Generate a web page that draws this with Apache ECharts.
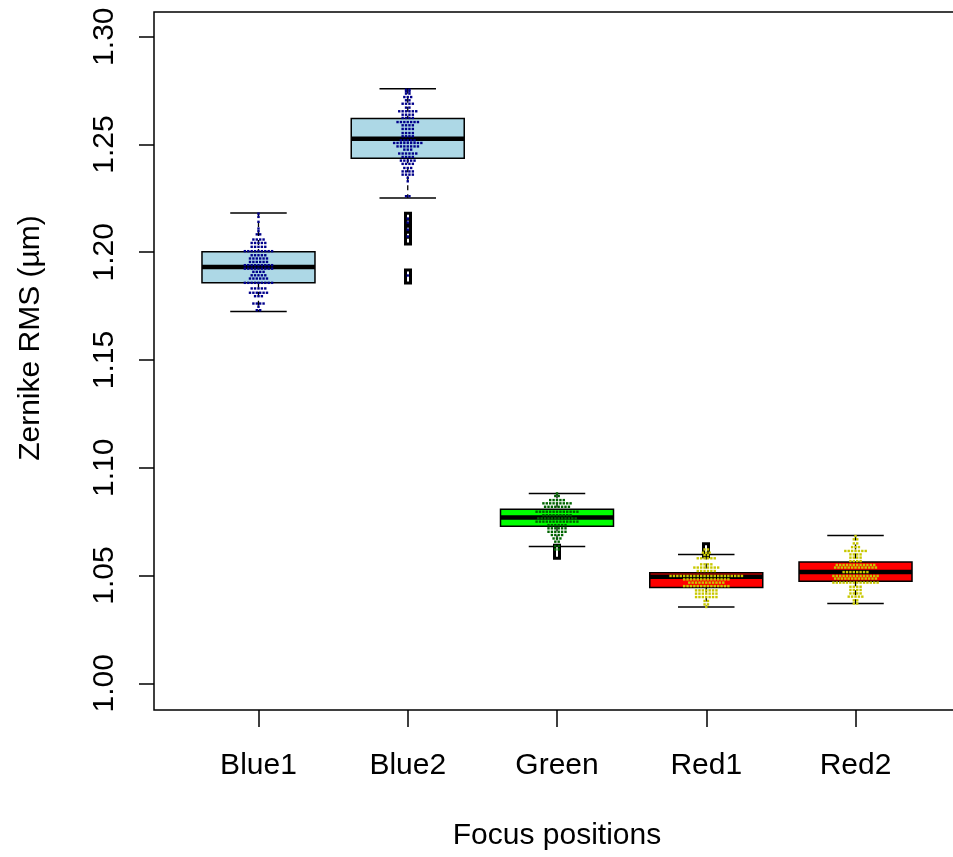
<!DOCTYPE html>
<html>
<head>
<meta charset="utf-8">
<script src="https://cdn.jsdelivr.net/npm/echarts@6/dist/echarts.min.js"></script>
<style>
  html, body { margin: 0; padding: 0; overflow: hidden; background: #ffffff; }
  #chart { width: 962px; height: 857px; }
</style>
</head>
<body>
<div id="chart"></div>
<script>
// Focus positions and their box statistics (Zernike RMS, µm)
const categories = ['Blue1', 'Blue2', 'Green', 'Red1', 'Red2'];
const yTicks = [1.00, 1.05, 1.10, 1.15, 1.20, 1.25, 1.30];

const whiskerLow  = [1.1725, 1.2252, 1.0635, 1.0354, 1.0370];
const quartile1   = [1.1858, 1.2436, 1.0729, 1.0444, 1.0473];
const medians     = [1.1932, 1.2526, 1.0769, 1.0494, 1.0516];
const quartile3   = [1.2002, 1.2620, 1.0807, 1.0513, 1.0563];
const whiskerHigh = [1.2182, 1.2759, 1.0881, 1.0598, 1.0686];

// outliers as [position index, value]
const outliers = [
  [1, 1.2151], [1, 1.2123], [1, 1.2100], [1, 1.2068], [1, 1.1887],
  [2, 1.0610],
  [3, 1.0617]
];

// beeswarm rows: value of each row and how many measurements fall in it
const blue1Levels = [1.2179, 1.2164, 1.2141, 1.2110, 1.2098, 1.2083, 1.2059, 1.2043, 1.2025, 1.2005, 1.1986, 1.1971, 1.1955, 1.1940, 1.1924, 1.1909, 1.1893, 1.1878, 1.1858, 1.1832, 1.1812, 1.1796, 1.1762, 1.1747, 1.1731];
const blue1Counts = [1, 1, 1, 1, 1, 2, 4, 5, 5, 9, 5, 6, 6, 9, 9, 4, 5, 6, 9, 5, 6, 3, 4, 1, 2];

const blue2Levels = [1.2754, 1.2746, 1.2736, 1.2720, 1.2705, 1.2689, 1.2671, 1.2654, 1.2638, 1.2623, 1.2604, 1.2589, 1.2572, 1.2553, 1.2538, 1.2519, 1.2507, 1.2491, 1.2476, 1.2458, 1.2442, 1.2425, 1.2410, 1.2391, 1.2375, 1.2360, 1.2345, 1.2329, 1.2260, 1.2156, 1.2138, 1.2105, 1.2073, 1.1892];
const blue2Counts = [2, 2, 2, 3, 2, 4, 2, 6, 4, 4, 7, 4, 4, 4, 4, 5, 9, 7, 3, 6, 4, 5, 4, 3, 4, 4, 1, 1, 2, 1, 1, 1, 1, 1];

const greenLevels = [1.0881, 1.0869, 1.0850, 1.0835, 1.0819, 1.0796, 1.0780, 1.0765, 1.0750, 1.0734, 1.0719, 1.0703, 1.0688, 1.0672, 1.0657, 1.0637, 1.0621];
const greenCounts = [1, 2, 5, 9, 8, 13, 9, 12, 13, 6, 6, 6, 4, 3, 2, 2, 2];

const red1Levels = [1.0621, 1.0606, 1.0595, 1.0580, 1.0552, 1.0537, 1.0521, 1.0498, 1.0482, 1.0467, 1.0451, 1.0431, 1.0416, 1.0400, 1.0382, 1.0366, 1.0354];
const red1Counts = [2, 3, 2, 6, 4, 8, 6, 22, 14, 11, 14, 7, 7, 7, 2, 2, 1];

const red2Levels = [1.0683, 1.0668, 1.0649, 1.0632, 1.0614, 1.0598, 1.0583, 1.0567, 1.0549, 1.0537, 1.0516, 1.0498, 1.0486, 1.0467, 1.0448, 1.0433, 1.0417, 1.0402, 1.0385, 1.0370];
const red2Counts = [1, 2, 2, 3, 7, 4, 4, 4, 12, 13, 8, 14, 13, 14, 4, 4, 4, 5, 2, 2];

const swarmLevels = [blue1Levels, blue2Levels, greenLevels, red1Levels, red2Levels];
const swarmCounts = [blue1Counts, blue2Counts, greenCounts, red1Counts, red2Counts];

// styling
const boxFill  = ['#ADD8E6', '#ADD8E6', '#00FF00', '#FF0000', '#FF0000'];
const dotColor = ['#00008B', '#00008B', '#006400', '#C8C800', '#C8C800'];
const BOX_WEX = 0.757;     // box width in axis units
const DOT_STEP = 3.4;      // horizontal spacing of swarm dots, px
const DOT_SIZE = 2.4;
const FONT = '"Liberation Sans", Arial, Helvetica, sans-serif';

// box records: [x, low, q1, median, q3, high]
const boxData = categories.map((c, i) =>
  [i + 1, whiskerLow[i], quartile1[i], medians[i], quartile3[i], whiskerHigh[i]]);

// swarm records: [x, value, slot within row, group index]
const swarmData = [];
swarmLevels.forEach((levels, g) => {
  levels.forEach((v, r) => {
    const n = swarmCounts[g][r];
    for (let j = 0; j < n; j++) {
      swarmData.push([g + 1, v, j - (n - 1) / 2, g]);
    }
  });
});

const outlierData = outliers.map(o => [o[0] + 1, o[1]]);

function renderBox(params, api) {
  const x = api.value(0);
  const pLow = api.coord([x, api.value(1)]);
  const pQ1 = api.coord([x, api.value(2)]);
  const pMed = api.coord([x, api.value(3)]);
  const pQ3 = api.coord([x, api.value(4)]);
  const pHigh = api.coord([x, api.value(5)]);
  const half = api.size([BOX_WEX, 0])[0] / 2;
  const cap = half / 2;
  const cx = pMed[0];
  const ink = { stroke: '#000', lineWidth: 1.5 };
  const dashed = { stroke: '#000', lineWidth: 1.3, lineDash: [5, 4], fill: null };
  return {
    type: 'group',
    children: [
      { type: 'line', shape: { x1: cx, y1: pHigh[1], x2: cx, y2: pQ3[1] }, style: dashed },
      { type: 'line', shape: { x1: cx, y1: pQ1[1], x2: cx, y2: pLow[1] }, style: dashed },
      { type: 'line', shape: { x1: cx - cap, y1: pHigh[1], x2: cx + cap, y2: pHigh[1] }, style: ink },
      { type: 'line', shape: { x1: cx - cap, y1: pLow[1], x2: cx + cap, y2: pLow[1] }, style: ink },
      { type: 'rect', shape: { x: cx - half, y: pQ3[1], width: 2 * half, height: pQ1[1] - pQ3[1] },
        style: { fill: boxFill[params.dataIndex], stroke: '#000', lineWidth: 1.5 } },
      { type: 'line', shape: { x1: cx - half, y1: pMed[1], x2: cx + half, y2: pMed[1] },
        style: { stroke: '#000', lineWidth: 4.5 } }
    ]
  };
}

function renderDot(params, api) {
  const p = api.coord([api.value(0), api.value(1)]);
  const slot = api.value(2);
  const g = api.value(3);
  return {
    type: 'rect',
    shape: { x: p[0] + slot * DOT_STEP - DOT_SIZE / 2, y: p[1] - DOT_SIZE / 2, width: DOT_SIZE, height: DOT_SIZE },
    style: { fill: dotColor[g] }
  };
}

// open outlier marks, sized in pixels around the data point
function renderOutlier(params, api) {
  const p = api.coord([api.value(0), api.value(1)]);
  return {
    type: 'rect',
    shape: { x: Math.round(p[0]) - 2.5, y: p[1] - 6.5, width: 5, height: 13 },
    style: { fill: null, stroke: '#000', lineWidth: 3 }
  };
}

const chart = echarts.init(document.getElementById('chart'), null, { renderer: 'canvas' });

chart.setOption({
  animation: false,
  backgroundColor: '#ffffff',
  textStyle: { fontFamily: FONT },
  grid: {
    left: 154, top: 12, width: 806, height: 698,
    show: true, borderColor: '#000', borderWidth: 1.5, backgroundColor: 'transparent'
  },
  xAxis: {
    type: 'value', min: 0.3, max: 5.7,
    name: 'Focus positions', nameLocation: 'middle', nameGap: 111,
    nameTextStyle: { fontSize: 30, color: '#000', fontFamily: FONT },
    axisLine: { show: false },
    splitLine: { show: false },
    axisTick: { show: true, length: 17, lineStyle: { color: '#000', width: 1.5 }, customValues: [1, 2, 3, 4, 5] },
    axisLabel: {
      customValues: [1, 2, 3, 4, 5], margin: 41, fontSize: 30, color: '#000', fontFamily: FONT,
      formatter: v => categories[Math.round(v) - 1]
    }
  },
  yAxis: {
    type: 'value', min: 0.98761, max: 1.31146,
    name: 'Zernike RMS (µm)', nameLocation: 'middle', nameGap: 108, nameRotate: 90,
    nameTextStyle: { fontSize: 30, color: '#000', fontFamily: FONT, padding: [0, 0, 0, 46] },
    axisLine: { show: false },
    splitLine: { show: false },
    axisTick: { show: true, length: 15, lineStyle: { color: '#000', width: 1.5 }, customValues: yTicks },
    axisLabel: {
      customValues: yTicks, rotate: 90, margin: 34, fontSize: 30, color: '#000', fontFamily: FONT,
      formatter: v => v.toFixed(2)
    }
  },
  series: [
    {
      type: 'custom', name: 'boxes', renderItem: renderBox, data: boxData, z: 2,
      encode: { x: 0, y: [1, 2, 3, 4, 5] }
    },
    {
      type: 'custom', name: 'outliers', renderItem: renderOutlier, data: outlierData, z: 3,
      encode: { x: 0, y: 1 }
    },
    {
      type: 'custom', name: 'swarm', renderItem: renderDot, data: swarmData, z: 4,
      encode: { x: 0, y: 1 }
    }
  ]
});
</script>
</body>
</html>
